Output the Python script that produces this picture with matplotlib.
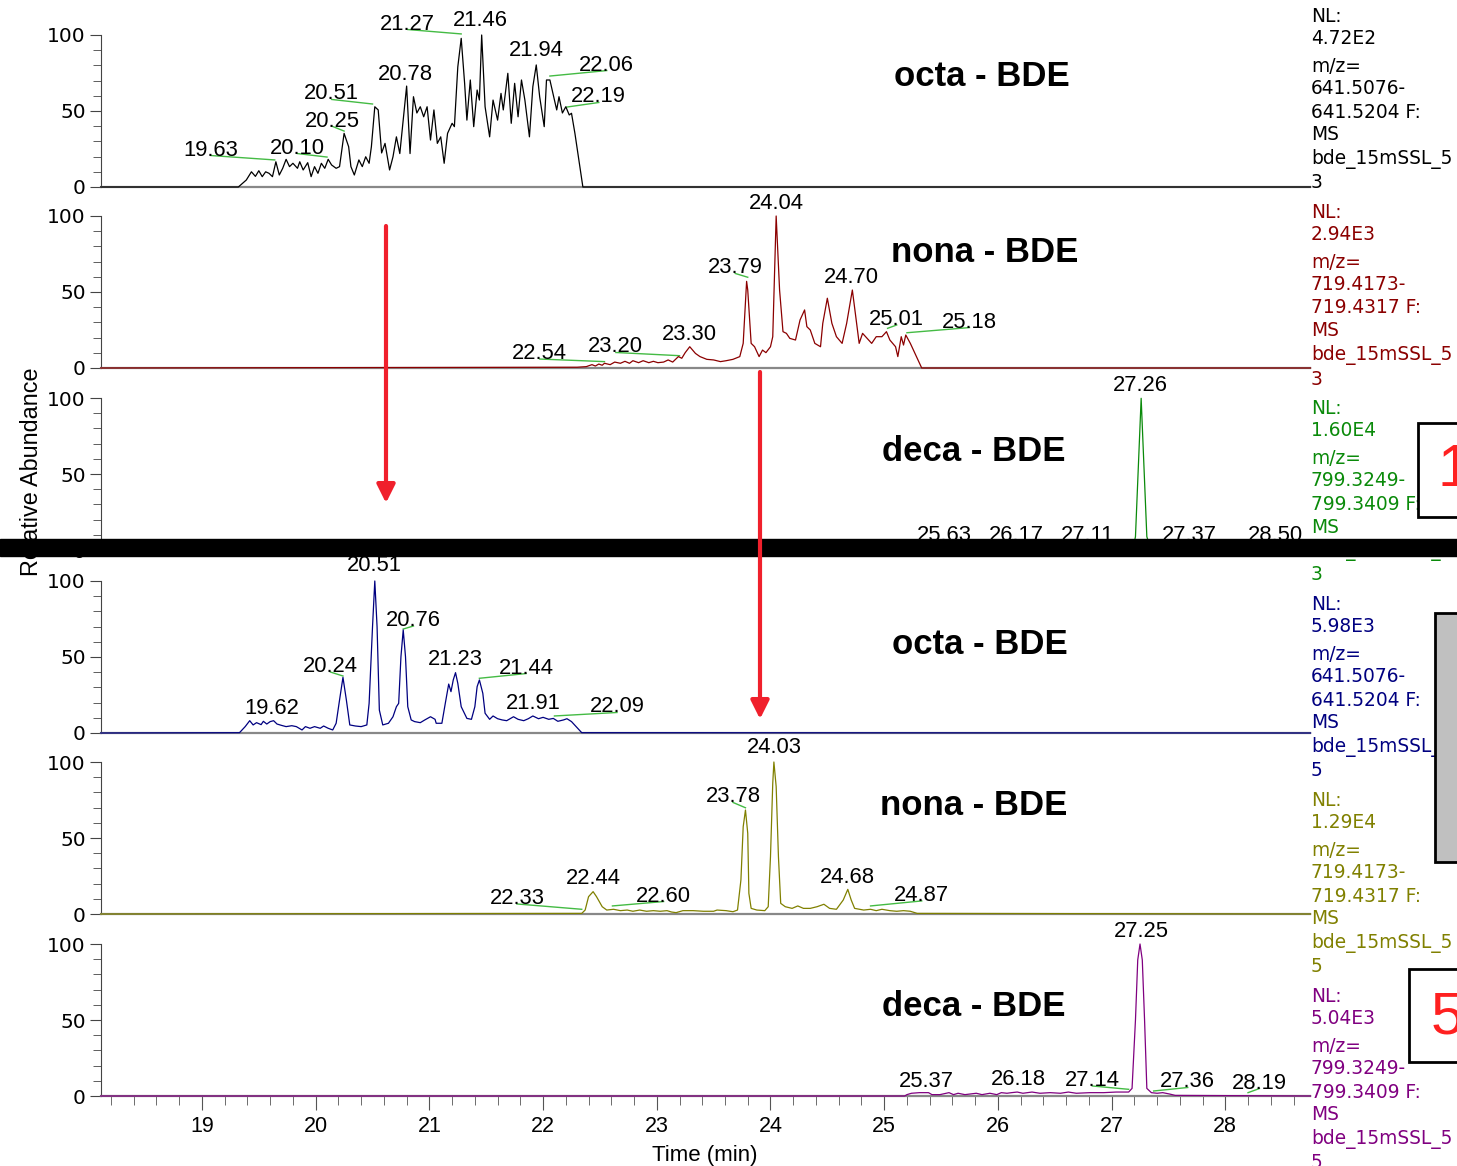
import matplotlib
matplotlib.use('Agg')
import matplotlib.pyplot as plt
from matplotlib.patches import Rectangle, FancyArrowPatch
from matplotlib.ticker import FixedLocator, MultipleLocator

plt.rcParams['font.family'] = ['Liberation Sans', 'DejaVu Sans']

# (retention time in min, relative abundance in %)
octa_3 = [(18.11, 0), (19.32, 0), (19.39, 4.6), (19.435, 10), (19.47, 7), (19.50, 10.7), (19.53, 6.8),
          (19.56, 10), (19.59, 9), (19.62, 6.8), (19.65, 16.6), (19.68, 7.9), (19.71, 12.3), (19.74, 18.2),
          (19.77, 13.4), (19.80, 15.6), (19.84, 12.3), (19.86, 16.6), (19.89, 11.2), (19.93, 16),
          (19.96, 6.8), (19.99, 13.4), (20.02, 9), (20.05, 15.6), (20.08, 12.3), (20.11, 18.2),
          (20.14, 14.5), (20.18, 12.3), (20.21, 13.4), (20.25, 35.3), (20.29, 26.5), (20.31, 13.4),
          (20.34, 7.9), (20.38, 17.8), (20.41, 13.4), (20.44, 19.9), (20.47, 15.6), (20.49, 26.5),
          (20.52, 52.8), (20.55, 50.7), (20.58, 22.4), (20.61, 28.7), (20.65, 11.2), (20.68, 19.9),
          (20.71, 33), (20.74, 22), (20.80, 66.4), (20.83, 22), (20.86, 59.4), (20.89, 48.7),
          (20.92, 52.8), (20.95, 46.2), (20.98, 52.8), (21.01, 30.9), (21.04, 50.7), (21.07, 28.7),
          (21.10, 33), (21.13, 15.6), (21.16, 35.3), (21.20, 41.9), (21.22, 39.7), (21.25, 79),
          (21.28, 97.8), (21.31, 68.2), (21.33, 44), (21.36, 70.4), (21.39, 39.7), (21.42, 63.8),
          (21.44, 57.2), (21.46, 100), (21.49, 52.8), (21.53, 33), (21.56, 57.2), (21.60, 44),
          (21.63, 61.6), (21.65, 50.7), (21.69, 74.8), (21.72, 41.9), (21.75, 68.2), (21.78, 46.2),
          (21.81, 70.4), (21.84, 57.2), (21.88, 33), (21.91, 66), (21.94, 80.3), (21.97, 59.4),
          (22.01, 39.7), (22.03, 70.4), (22.06, 70.4), (22.10, 57.2), (22.12, 50.7), (22.14, 59.4),
          (22.17, 48.7), (22.20, 52.8), (22.23, 47.4), (22.25, 48.5), (22.28, 35.3), (22.35, 0),
          (28.75, 0)]

nona_3 = [(18.11, 0), (22.30, 0.5), (22.38, 0.9), (22.43, 2.2), (22.46, 1.3), (22.49, 2.6), (22.52, 1.8),
          (22.54, 3.1), (22.59, 2.2), (22.63, 3.9), (22.68, 3.1), (22.72, 4.4), (22.76, 3.1), (22.79, 4.8),
          (22.84, 3.5), (22.88, 4.8), (22.93, 3.5), (22.97, 4.4), (23.01, 3.5), (23.06, 3.9), (23.10, 5.3),
          (23.14, 3.9), (23.19, 7.5), (23.22, 6.4), (23.25, 10.1), (23.29, 14.0), (23.34, 9.6),
          (23.38, 7.5), (23.44, 5.7), (23.50, 5.3), (23.56, 4.2), (23.61, 4.8), (23.67, 5.7), (23.73, 7.5),
          (23.76, 16.2), (23.79, 57), (23.80, 51.3), (23.83, 16.2), (23.86, 14), (23.90, 7.5),
          (23.93, 11.8), (23.96, 10.1), (24.00, 14), (24.02, 20.6), (24.05, 100), (24.08, 51.3),
          (24.11, 23.9), (24.14, 22.8), (24.17, 19.5), (24.22, 18.4), (24.26, 31.6), (24.30, 38.2),
          (24.32, 27.2), (24.35, 25), (24.39, 16.2), (24.44, 14), (24.46, 29.4), (24.50, 45.9),
          (24.54, 29.4), (24.58, 20.6), (24.63, 16.2), (24.67, 29.4), (24.72, 51.3), (24.75, 33.8),
          (24.78, 16.2), (24.81, 22.8), (24.85, 19.5), (24.89, 16.2), (24.93, 20.6), (24.98, 20.6),
          (25.02, 23.9), (25.05, 18.4), (25.10, 14), (25.12, 7.5), (25.15, 20.6), (25.17, 15.1),
          (25.19, 21.7), (25.23, 16.2), (25.33, 0), (28.75, 0)]

deca_3 = [(18.11, 0), (25.40, 0), (25.63, 1.5), (26.17, 1.5), (26.60, 1), (27.11, 2), (27.19, 1.5),
          (27.21, 8.8), (27.26, 99.8), (27.31, 8.8), (27.34, 1.5), (27.37, 2), (28.50, 1), (28.75, 0)]

octa_5 = [(18.11, 0), (19.33, 0.2), (19.38, 4.2), (19.42, 8.1), (19.45, 5.3), (19.48, 6.8), (19.52, 5.5),
          (19.54, 7.7), (19.57, 5.9), (19.60, 7.5), (19.63, 8.1), (19.66, 5.9), (19.70, 5.0), (19.74, 4.2),
          (19.79, 4.8), (19.83, 4.2), (19.88, 2.0), (19.91, 4.2), (19.95, 3.1), (19.99, 4.2), (20.04, 3.1),
          (20.07, 4.6), (20.11, 3.1), (20.15, 2.0), (20.18, 6.4), (20.21, 21.7), (20.24, 36.6),
          (20.27, 21.7), (20.30, 5.3), (20.35, 4.6), (20.40, 4.2), (20.45, 5.3), (20.47, 19.5),
          (20.50, 69.9), (20.52, 100), (20.54, 69.9), (20.56, 15.1), (20.59, 5.3), (20.64, 6.4),
          (20.68, 10.7), (20.71, 17.3), (20.73, 19.5), (20.75, 50.2), (20.77, 67.8), (20.79, 50.2),
          (20.81, 17.3), (20.84, 8.6), (20.87, 7.5), (20.92, 6.8), (20.96, 8.6), (21.01, 10.7),
          (21.05, 9.0), (21.06, 6.4), (21.11, 6.4), (21.14, 19.5), (21.17, 32.2), (21.19, 27.2),
          (21.21, 34.9), (21.23, 39.7), (21.25, 32.7), (21.28, 17.3), (21.33, 9.6), (21.37, 9.0),
          (21.40, 17.3), (21.42, 30.5), (21.44, 34.9), (21.47, 26.1), (21.49, 13), (21.53, 9.0),
          (21.56, 11.2), (21.60, 9.4), (21.64, 8.6), (21.68, 8.1), (21.74, 10.7), (21.78, 9.0),
          (21.83, 8.1), (21.87, 9.4), (21.91, 11.2), (21.96, 9.4), (22.00, 10.3), (22.05, 9.0),
          (22.09, 9.6), (22.13, 7.7), (22.18, 8.6), (22.21, 9.4), (22.25, 7.5), (22.34, 0.2), (28.75, 0)]

nona_5 = [(18.11, 0), (22.34, 0.4), (22.37, 2.6), (22.40, 11.4), (22.44, 14.7), (22.47, 11.4), (22.52, 4.8),
          (22.56, 2.6), (22.62, 3.1), (22.68, 2.2), (22.74, 2.6), (22.79, 1.8), (22.85, 2.6), (22.91, 1.8),
          (22.97, 2.2), (23.03, 1.8), (23.09, 2.2), (23.13, 1.3), (23.17, 0.9), (23.23, 2.2), (23.32, 2.2),
          (23.41, 1.8), (23.50, 1.8), (23.53, 2.6), (23.61, 2.2), (23.67, 1.5), (23.71, 2.6), (23.74, 22.4),
          (23.76, 57.4), (23.78, 68.4), (23.80, 53.1), (23.81, 13.6), (23.83, 3.7), (23.88, 2.6),
          (23.95, 2.2), (23.98, 4.8), (24.00, 37.7), (24.02, 86), (24.03, 100), (24.05, 83.8),
          (24.07, 37.7), (24.09, 7.0), (24.13, 4.8), (24.19, 3.7), (24.24, 5.3), (24.29, 3.7),
          (24.35, 3.7), (24.41, 4.8), (24.47, 6.4), (24.52, 3.7), (24.58, 3.1), (24.64, 9.2),
          (24.68, 16.2), (24.71, 9.2), (24.74, 3.7), (24.82, 2.6), (24.88, 3.1), (24.93, 2.2),
          (24.98, 3.1), (25.05, 2.2), (25.11, 1.8), (25.17, 2.2), (25.23, 1.8), (25.29, 0.4), (28.75, 0)]

deca_5 = [(18.11, 0), (25.18, 0), (25.20, 0.9), (25.24, 1.8), (25.31, 2.2), (25.39, 2.2), (25.42, 0.9),
          (25.49, 0.9), (25.57, 2.2), (25.61, 0.9), (25.65, 1.8), (25.71, 0.9), (25.81, 1.8), (25.86, 0.9),
          (25.93, 1.8), (25.99, 0.9), (26.03, 2.2), (26.08, 1.8), (26.12, 2.2), (26.17, 2.6), (26.22, 1.8),
          (26.30, 2.6), (26.37, 1.8), (26.46, 2.2), (26.55, 1.8), (26.62, 2.6), (26.69, 1.8), (26.81, 2.2),
          (26.93, 2.2), (27.04, 2.6), (27.15, 2.6), (27.18, 5.0), (27.21, 50), (27.23, 89.5), (27.25, 100),
          (27.27, 89.5), (27.29, 50), (27.31, 5.0), (27.35, 2.2), (27.40, 1.8), (27.45, 2.2), (27.51, 1.3),
          (27.56, 0.4), (28.75, 0)]

traces = [octa_3, nona_3, deca_3, octa_5, nona_5, deca_5]
compounds = ['octa - BDE', 'nona - BDE', 'deca - BDE', 'octa - BDE', 'nona - BDE', 'deca - BDE']
nl_values = ['4.72E2', '2.94E3', '1.60E4', '5.98E3', '1.29E4', '5.04E3']
mz_low = ['641.5076', '719.4173', '799.3249', '641.5076', '719.4173', '799.3249']
mz_high = ['641.5204', '719.4317', '799.3409', '641.5204', '719.4317', '799.3409']
run_no = ['3', '3', '3', '5', '5', '5']
colors = ['#000000', '#8b0000', '#0a8a0a', '#000080', '#808000', '#800080']

# peak labels: (text, label x, label baseline y, end of green leader or None)
peaks = [
    [('19.63', 19.08, 20.7, (19.64, 17.8)), ('20.10', 19.84, 22.0, (20.10, 19.7)),
     ('20.25', 20.15, 39.8, (20.25, 36.8)), ('20.51', 20.14, 57.6, (20.50, 54.6)),
     ('20.78', 20.79, 70.7, None), ('21.27', 20.81, 103.6, (21.28, 100.7)),
     ('21.46', 21.45, 106.2, None), ('21.94', 21.94, 85.9, None),
     ('22.06', 22.56, 76.6, (22.06, 73.0)), ('22.19', 22.49, 55.6, (22.21, 52.6))],
    [('22.54', 21.97, 5.9, (22.54, 4.2)), ('23.20', 22.64, 10.2, (23.20, 8.1)),
     ('23.30', 23.29, 18.4, None), ('23.79', 23.69, 62.2, (23.80, 59.7)),
     ('24.04', 24.05, 104.6, None), ('24.70', 24.71, 55.6, None),
     ('25.01', 25.11, 28.3, (25.03, 26.1)), ('25.18', 25.75, 26.6, (25.20, 23.2))],
    [('25.63', 25.53, 5.9, None), ('26.17', 26.16, 5.9, None), ('27.11', 26.79, 5.9, None),
     ('27.26', 27.25, 104.6, None), ('27.37', 27.68, 5.9, None), ('28.50', 28.44, 5.9, None)],
    [('19.62', 19.61, 12.5, None), ('20.24', 20.13, 40.1, (20.24, 37.5)),
     ('20.51', 20.52, 106.6, None), ('20.76', 20.86, 70.4, (20.77, 68.4)),
     ('21.23', 21.23, 44.7, None), ('21.44', 21.85, 39.1, (21.44, 36.0)),
     ('21.91', 21.91, 15.8, None), ('22.09', 22.65, 13.5, (22.10, 11.2))],
    [('22.33', 21.77, 6.6, (22.34, 3.1)), ('22.44', 22.44, 19.7, None),
     ('22.60', 23.06, 8.2, (22.61, 5.3)), ('23.78', 23.67, 73.4, (23.78, 69.9)),
     ('24.03', 24.03, 105.6, None), ('24.68', 24.68, 20.7, None),
     ('24.87', 25.33, 8.6, (24.88, 5.3))],
    [('25.37', 25.37, 5.6, None), ('26.18', 26.18, 7.2, None),
     ('27.14', 26.83, 6.6, (27.15, 4.4)), ('27.25', 27.26, 104.6, None),
     ('27.36', 27.67, 5.6, (27.37, 3.3)), ('28.19', 28.30, 4.9, (28.20, 2.2))],
]

# where the compound name sits in each panel (x, baseline y)
title_pos = [(25.86, 66.4), (25.88, 69.7), (25.79, 58.6), (25.84, 52.0), (25.79, 65.1), (25.79, 52.6)]

W, H = 1457, 1166
bases = [187, 368, 550, 733, 914, 1096]   # pixel row of each panel's zero line
LEADER = '#44bb44'


def fx(px):
    return px / W


def fy(py):
    return 1 - py / H


fig = plt.figure(figsize=(W / 100, H / 100), dpi=100)

for i in range(6):
    ax = fig.add_axes([fx(101), fy(bases[i]), (1310 - 101) / W, 120 * 1.52 / H])
    ax.patch.set_visible(False)
    ax.set_xlim(18.112, 28.745)
    ax.set_ylim(0, 120)

    t, y = zip(*traces[i])
    ax.plot(t, y, color=colors[i], lw=0.9, zorder=3, clip_on=False)

    for txt, tx, ty, end in peaks[i]:
        ax.text(tx, ty, txt, ha='center', va='baseline', fontsize=15.8, zorder=4, clip_on=False)
        if end is not None:
            ax.plot([tx, end[0]], [ty, end[1]], color=LEADER, lw=1, zorder=2, clip_on=False)

    ax.text(*title_pos[i], compounds[i], ha='center', va='baseline',
            fontsize=25, fontweight='bold', zorder=4)

    for s in ['top', 'right']:
        ax.spines[s].set_visible(False)
    ax.spines['left'].set_bounds(0, 100)
    ax.spines['left'].set_color('#444444')
    ax.spines['bottom'].set_color('#888888')
    ax.spines['bottom'].set_linewidth(1.6)

    ax.yaxis.set_major_locator(FixedLocator([0, 50, 100]))
    ax.yaxis.set_minor_locator(FixedLocator(range(10, 100, 10)))
    ax.tick_params(axis='y', which='major', length=8, pad=3, labelsize=14.5,
                   labelfontfamily='DejaVu Sans', color='#444444')
    ax.tick_params(axis='y', which='minor', length=6, color='#444444')

    if i == 5:
        ax.xaxis.set_major_locator(MultipleLocator(1))
        ax.xaxis.set_minor_locator(MultipleLocator(0.2))
        ax.tick_params(axis='x', which='major', length=10, pad=4.5, labelsize=15.5, color='#555555')
        ax.tick_params(axis='x', which='minor', length=6.5, color='#555555')
    else:
        ax.tick_params(axis='x', which='both', bottom=False, labelbottom=False)

    # instrument info block on the right
    lines = ['NL:', nl_values[i], 'm/z=', mz_low[i] + '-', mz_high[i] + ' F:', 'MS',
             'bde_15mSSL_5', run_no[i]]
    offsets = [0, 23, 50, 73, 96, 119, 143, 167]
    top = 16 + 196 * i
    for line, off in zip(lines, offsets):
        fig.text(fx(1311), fy(top + off), line, ha='left', va='center', fontsize=13.4,
                 family='DejaVu Sans', color=colors[i])

fig.text(fx(32), fy(472), 'Relative Abundance', rotation=90, ha='center', va='center', fontsize=16.8)
fig.text(fx(705), fy(1155), 'Time (min)', ha='center', va='center', fontsize=16)

# black band across the middle
fig.add_artist(Rectangle((0, fy(556)), 1, 17 / H, transform=fig.transFigure,
                         color='black', zorder=20))

# red arrows
for x, y0, y1 in [(386, 226, 503), (760, 372, 719)]:
    fig.add_artist(FancyArrowPatch((fx(x), fy(y0)), (fx(x), fy(y1)), transform=fig.transFigure,
                                   arrowstyle='-|>,head_length=11,head_width=5.5', mutation_scale=1,
                                   lw=3, color='#f0202c', shrinkA=0, shrinkB=0, zorder=25))

# boxes cut by the right edge
fig.add_artist(Rectangle((fx(1418), fy(517)), 60 / W, 94 / H, transform=fig.transFigure,
                         fc='white', ec='black', lw=2, zorder=30))
fig.add_artist(Rectangle((fx(1435), fy(862)), 60 / W, 249 / H, transform=fig.transFigure,
                         fc='#c0c0c0', ec='black', lw=2, zorder=30))
fig.add_artist(Rectangle((fx(1409), fy(1062)), 60 / W, 93 / H, transform=fig.transFigure,
                         fc='white', ec='black', lw=2, zorder=30))
fig.text(fx(1438), fy(470), '1', ha='left', va='center', fontsize=43, color='#ff2020', zorder=31)
fig.text(fx(1431), fy(1018), '5', ha='left', va='center', fontsize=43, color='#ff2020', zorder=31)

fig.savefig('out.png', dpi=100)
